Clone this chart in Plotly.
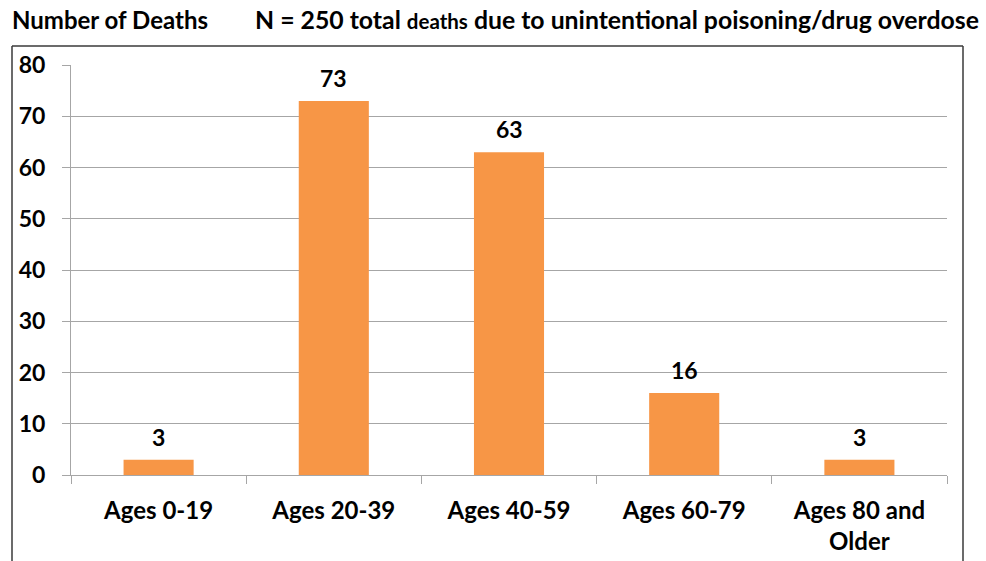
import plotly.graph_objects as go

categories = ["Ages 0-19", "Ages 20-39", "Ages 40-59", "Ages 60-79", "Ages 80 and<br>Older"]
deaths = [3, 73, 63, 16, 3]
y_ticks = [0, 10, 20, 30, 40, 50, 60, 70, 80]

FONT = "Lato"
BAR = "#F79646"
GRID = "#A6A6A6"

W, H = 986, 561
L, R, T, B = 71, 39, 65, 86
pw, ph = W - L - R, H - T - B


def px(xp):
    return (xp - L) / pw


def py(yp):
    return (H - B - yp) / ph


fig = go.Figure()
fig.add_trace(go.Bar(x=categories, y=deaths, marker=dict(color=BAR, line=dict(width=0)),
                     width=0.4, hoverinfo="x+y"))

annotations = []
for c, v in zip(categories, deaths):
    annotations.append(dict(x=c, y=v, xref="x", yref="y", text=f"<b>{v}</b>", showarrow=False,
                            yanchor="bottom", yshift=7,
                            font=dict(family=FONT, size=23, color="black")))

annotations.append(dict(x=px(10), y=py(20), xref="paper", yref="paper",
                        xanchor="left", yanchor="middle",
                        text="<b>Number of Deaths</b>", showarrow=False,
                        font=dict(family=FONT, size=24, color="black")))
annotations.append(dict(x=px(981), y=py(20), xref="paper", yref="paper",
                        xanchor="right", yanchor="middle",
                        text="<b>N = 250 total <span style='font-size:20.5px'>deaths</span> due to unintentional poisoning/drug overdose</b>",
                        showarrow=False, font=dict(family=FONT, size=24.8, color="black")))

frame = dict(color="#3A3A3A", width=1.5)
shapes = [
    dict(type="line", xref="paper", yref="paper", x0=px(12), x1=px(12), y0=py(46), y1=py(600), line=frame),
    dict(type="line", xref="paper", yref="paper", x0=px(12), x1=px(963), y0=py(46), y1=py(46), line=frame),
    dict(type="line", xref="paper", yref="paper", x0=px(963), x1=px(963), y0=py(46), y1=py(600), line=frame),
]

fig.update_layout(
    width=W, height=H,
    margin=dict(l=L, r=R, t=T, b=B, autoexpand=False),
    plot_bgcolor="white", paper_bgcolor="white",
    showlegend=False,
    font=dict(family=FONT, size=23, color="black"),
    annotations=annotations,
    shapes=shapes,
    xaxis=dict(type="category", range=[-0.5, 4.5], tickson="boundaries", ticks="outside",
               ticklen=8, tickcolor=GRID, showline=True, linecolor=GRID, linewidth=1,
               showgrid=False, automargin=False,
               tickfont=dict(family=FONT, size=24, color="black", weight="bold"),
               ticklabelstandoff=14),
    yaxis=dict(range=[0, 80], tickvals=y_ticks, ticks="outside", ticklen=8, tickcolor=GRID,
               showline=True, linecolor=GRID, linewidth=1, showgrid=True, gridcolor=GRID,
               gridwidth=1, zeroline=False, automargin=False,
               tickfont=dict(family=FONT, size=23, color="black", weight="bold"),
               ticklabelstandoff=12),
)

fig.write_html("out.html", config={"displayModeBar": False},
               post_script="document.body.style.margin='0';document.body.style.overflow='hidden';")
